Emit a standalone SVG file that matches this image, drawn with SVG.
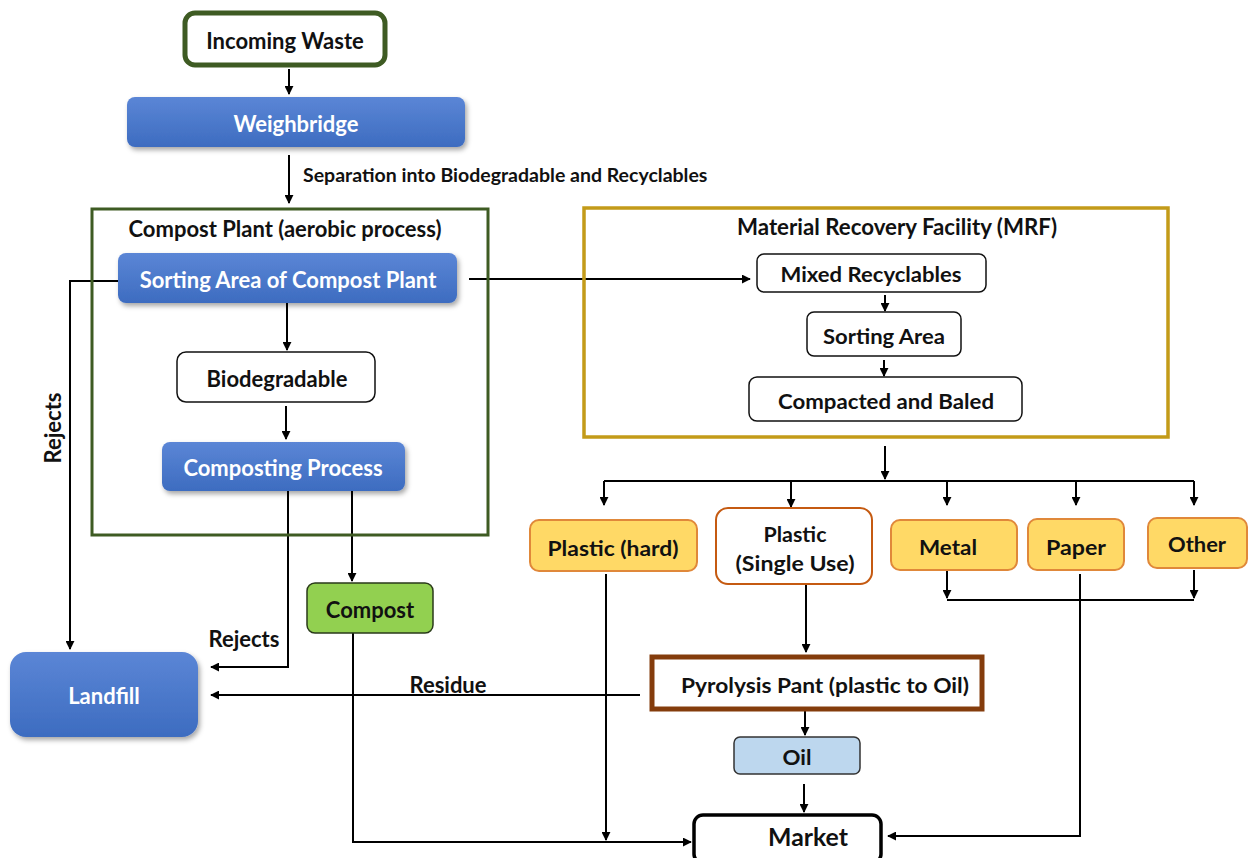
<svg xmlns="http://www.w3.org/2000/svg" width="1249" height="858" viewBox="0 0 1249 858">
<defs>
<linearGradient id="blueG" x1="0" y1="0" x2="0" y2="1">
<stop offset="0" stop-color="#5b86d6"/>
<stop offset="1" stop-color="#3d6cc0"/>
</linearGradient>
<filter id="sh" x="-10%" y="-10%" width="125%" height="140%">
<feDropShadow dx="2" dy="3" stdDeviation="2.5" flood-color="#000" flood-opacity="0.35"/>
</filter>
<marker id="ah" viewBox="0 0 10 10" refX="9" refY="5" markerWidth="9" markerHeight="9" markerUnits="userSpaceOnUse" orient="auto">
<path d="M0,0 L10,5 L0,10 z" fill="#000"/>
</marker>
<style>
text{font-family:Lato,"Open Sans","Liberation Sans",sans-serif;font-weight:bold;text-anchor:middle;dominant-baseline:central;fill:#111;font-size:22px}
.w{fill:#fff}
.blue{fill:url(#blueG);filter:url(#sh)}
.plain{fill:#fff;stroke:#111;stroke-width:1.5}
.yel{fill:#ffd966;stroke:#e0883a;stroke-width:2}
.c{fill:none;stroke:#000;stroke-width:2}
.n{font-size:21px}
</style>
</defs>

<g id="connectors">
<line class="c" x1="289" y1="69" x2="289" y2="94" marker-end="url(#ah)"/>
<line class="c" x1="289" y1="155" x2="289" y2="203" marker-end="url(#ah)"/>
<polyline class="c" points="118,281 70,281 70,649" marker-end="url(#ah)"/>
<line class="c" x1="469" y1="279" x2="750" y2="279" marker-end="url(#ah)"/>
<line class="c" x1="287" y1="303" x2="287" y2="350" marker-end="url(#ah)"/>
<line class="c" x1="286" y1="406" x2="286" y2="439" marker-end="url(#ah)"/>
<polyline class="c" points="288,491 288,667 211,667" marker-end="url(#ah)"/>
<line class="c" x1="352" y1="491" x2="352" y2="581" marker-end="url(#ah)"/>
<polyline class="c" points="353,633 353,842 691,842" marker-end="url(#ah)"/>
<line class="c" x1="640" y1="695" x2="211" y2="695" marker-end="url(#ah)"/>
<line class="c" x1="885" y1="295" x2="885" y2="311" marker-end="url(#ah)"/>
<line class="c" x1="884" y1="360" x2="884" y2="376" marker-end="url(#ah)"/>
<line class="c" x1="885" y1="446" x2="885" y2="479" marker-end="url(#ah)"/>
<line class="c" x1="604" y1="481" x2="1194" y2="481"/>
<line class="c" x1="604" y1="481" x2="604" y2="505" marker-end="url(#ah)"/>
<line class="c" x1="791" y1="481" x2="791" y2="507" marker-end="url(#ah)"/>
<line class="c" x1="947" y1="481" x2="947" y2="505" marker-end="url(#ah)"/>
<line class="c" x1="1076" y1="481" x2="1076" y2="505" marker-end="url(#ah)"/>
<line class="c" x1="1194" y1="481" x2="1194" y2="505" marker-end="url(#ah)"/>
<line class="c" x1="947" y1="570" x2="947" y2="598" marker-end="url(#ah)"/>
<line class="c" x1="1194" y1="570" x2="1194" y2="598" marker-end="url(#ah)"/>
<line class="c" x1="947" y1="600" x2="1194" y2="600"/>
<line class="c" x1="606" y1="574" x2="606" y2="840" marker-end="url(#ah)"/>
<line class="c" x1="806" y1="584" x2="806" y2="652" marker-end="url(#ah)"/>
<line class="c" x1="805" y1="710" x2="805" y2="735" marker-end="url(#ah)"/>
<line class="c" x1="804" y1="784" x2="804" y2="812" marker-end="url(#ah)"/>
<polyline class="c" points="1080,574 1080,836 888,836" marker-end="url(#ah)"/>
<text x="303" y="174" style="text-anchor:start;font-size:19.5px">Separation into Biodegradable and Recyclables</text>
<text x="0" y="0" transform="translate(52,428) rotate(-90)">Rejects</text>
<text x="244" y="638">Rejects</text>
<text x="448" y="684">Residue</text>
</g>

<g id="incoming-waste">
<rect x="185" y="13" width="200" height="52" rx="10" fill="#fff" stroke="#3e5b23" stroke-width="5"/>
<text x="285" y="40">Incoming Waste</text>
</g>
<g id="weighbridge">
<rect class="blue" x="127" y="97" width="338" height="50" rx="8"/>
<text class="w" x="296" y="123">Weighbridge</text>
</g>
<g id="compost-plant">
<rect x="92" y="209" width="396" height="326" fill="none" stroke="#3e5b23" stroke-width="3"/>
<text x="285" y="228">Compost Plant (aerobic process)</text>
</g>
<g id="sorting-compost">
<rect class="blue" x="118" y="253" width="339" height="50" rx="8"/>
<text class="w" x="288" y="279">Sorting Area of Compost Plant</text>
</g>
<g id="biodegradable">
<rect class="plain" x="177" y="352" width="198" height="50" rx="9"/>
<text x="277" y="378">Biodegradable</text>
</g>
<g id="composting-process">
<rect class="blue" x="162" y="442" width="243" height="49" rx="8"/>
<text class="w" x="283" y="467">Composting Process</text>
</g>
<g id="compost">
<rect x="307" y="583" width="126" height="50" rx="8" fill="#92d050" stroke="#2a3a1a" stroke-width="1.5"/>
<text x="370" y="609">Compost</text>
</g>
<g id="landfill">
<rect class="blue" x="10" y="652" width="188" height="85" rx="16"/>
<text class="w" x="104" y="695">Landfill</text>
</g>
<g id="mrf">
<rect x="584" y="208" width="584" height="229" fill="none" stroke="#c39b19" stroke-width="3.5"/>
<text x="897" y="226" textLength="320" lengthAdjust="spacingAndGlyphs">Material Recovery Facility (MRF)</text>
</g>
<g id="mixed-recyclables">
<rect class="plain" x="757" y="254" width="229" height="38" rx="7"/>
<text class="n" x="871" y="273" textLength="181" lengthAdjust="spacingAndGlyphs">Mixed Recyclables</text>
</g>
<g id="sorting-area">
<rect class="plain" x="807" y="312" width="154" height="44" rx="7"/>
<text class="n" x="884" y="335" textLength="122" lengthAdjust="spacingAndGlyphs">Sorting Area</text>
</g>
<g id="compacted-baled">
<rect class="plain" x="749" y="377" width="273" height="44" rx="8"/>
<text class="n" x="886" y="400" textLength="216" lengthAdjust="spacingAndGlyphs">Compacted and Baled</text>
</g>
<g id="plastic-hard">
<rect class="yel" x="530" y="520" width="167" height="51" rx="9"/>
<text class="n" x="613" y="547" textLength="131" lengthAdjust="spacingAndGlyphs">Plastic (hard)</text>
</g>
<g id="plastic-single">
<rect x="716" y="508" width="156" height="76" rx="12" fill="#fff" stroke="#c55a11" stroke-width="2"/>
<text class="n" x="795" y="533" textLength="63" lengthAdjust="spacingAndGlyphs">Plastic</text>
<text class="n" x="795" y="562" textLength="119" lengthAdjust="spacingAndGlyphs">(Single Use)</text>
</g>
<g id="metal">
<rect class="yel" x="891" y="520" width="126" height="50" rx="9"/>
<text class="n" x="948" y="546" textLength="58" lengthAdjust="spacingAndGlyphs">Metal</text>
</g>
<g id="paper">
<rect class="yel" x="1028" y="519" width="96" height="51" rx="9"/>
<text class="n" x="1076" y="546" textLength="60" lengthAdjust="spacingAndGlyphs">Paper</text>
</g>
<g id="other">
<rect class="yel" x="1148" y="518" width="99" height="50" rx="9"/>
<text class="n" x="1197" y="543" textLength="58" lengthAdjust="spacingAndGlyphs">Other</text>
</g>
<g id="pyrolysis">
<rect x="652" y="657" width="330" height="52" fill="#fff" stroke="#843c0c" stroke-width="5"/>
<text class="n" x="825" y="684" textLength="288" lengthAdjust="spacingAndGlyphs">Pyrolysis Pant (plastic to Oil)</text>
</g>
<g id="oil">
<rect x="734" y="737" width="126" height="37" rx="6" fill="#bdd7ee" stroke="#333" stroke-width="1.5"/>
<text class="n" x="797" y="756" textLength="29" lengthAdjust="spacingAndGlyphs">Oil</text>
</g>
<g id="market">
<rect x="694" y="815" width="187" height="48" rx="9" fill="#fff" stroke="#000" stroke-width="3.5"/>
<text x="808" y="836" style="font-size:24px" textLength="80" lengthAdjust="spacingAndGlyphs">Market</text>
</g>
</svg>
